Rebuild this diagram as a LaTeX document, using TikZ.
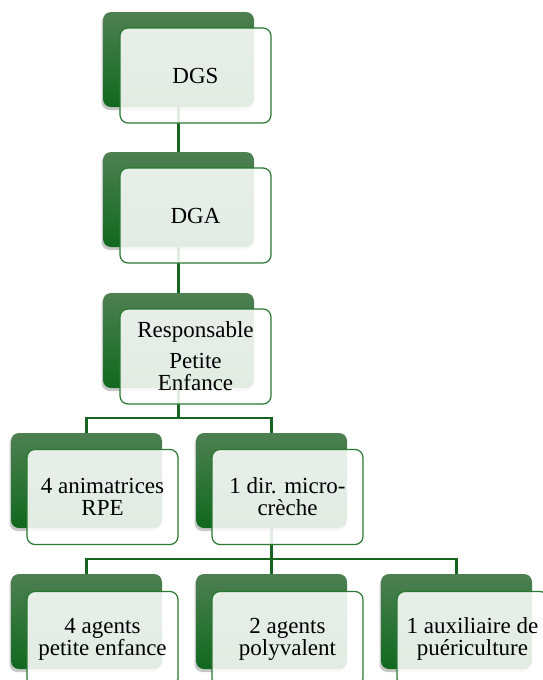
\documentclass[tikz,border=0pt]{standalone}
\usepackage{fontspec}
\setmainfont{Liberation Serif}
\usetikzlibrary{shadows}
\definecolor{gtop}{RGB}{78,128,82}
\definecolor{gbot}{RGB}{16,104,30}
\definecolor{gline}{RGB}{22,100,32}
\definecolor{gborder}{RGB}{40,120,48}
\begin{document}
\begin{tikzpicture}[x=1pt,y=-1pt,
  backbox/.style={rounded corners=8pt, top color=gtop, bottom color=gbot, draw=none,
    minimum width=151pt, minimum height=95pt, inner sep=0pt,
    drop shadow={shadow xshift=-1.5pt, shadow yshift=-3pt, opacity=0.22, fill=black}},
  frontbox/.style={rounded corners=8pt, fill=white, fill opacity=0.88, text opacity=1,
    draw=gborder, line width=1.2pt, minimum width=151pt, minimum height=95pt,
    inner sep=0pt, align=center, font=\fontsize{23}{22}\selectfont},
  link/.style={draw=gline, line width=2.4pt}]
\useasboundingbox (0,0) rectangle (543,680);
\clip (0,0) rectangle (543,680);
% junction points
\coordinate (j1) at (178.5,418);
\coordinate (j2) at (271.5,559);
% connectors (behind boxes)
\draw[link] (178.5,100) -- (178.5,160);
\draw[link] (178.5,240) -- (178.5,300);
\draw[link] (178.5,380) -- (j1);
\draw[link] (86.5,440) |- (j1) -| (271.5,440);
\draw[link] (271.5,520) -- (j2);
\draw[link] (86.5,580) |- (j2) -| (456.5,580);
\draw[link] (j2) -- (271.5,580);
% back boxes
\node[backbox] (b1) at (178.5,59.5) {};
\node[backbox] (b2) at (178.5,199.5) {};
\node[backbox] (b3) at (178.5,340.5) {};
\node[backbox] (b4a) at (86.5,480.5) {};
\node[backbox] (b4b) at (271.5,480.5) {};
\node[backbox] (b5a) at (86.5,621.5) {};
\node[backbox] (b5b) at (271.5,621.5) {};
\node[backbox] (b5c) at (456.5,621.5) {};
% front boxes
\node[frontbox] (f1) at (195.5,75.5) {DGS};
\node[frontbox] (f2) at (195.5,215.5) {DGA};
\node[frontbox] (f3) at (195.5,356.5) {Responsable\\[9pt]Petite\\Enfance};
\node[frontbox] (f4a) at (102.5,497) {4 animatrices\\RPE};
\node[frontbox] (f4b) at (287.5,497) {1 dir. micro-\\crèche};
\node[frontbox] (f5a) at (102.5,639) {4 agents\\petite enfance};
\node[frontbox] (f5b) at (287.5,639) {2 agents\\polyvalent};
\node[frontbox] (f5c) at (472.5,639) {1 auxiliaire de\\puériculture};
\end{tikzpicture}
\end{document}
